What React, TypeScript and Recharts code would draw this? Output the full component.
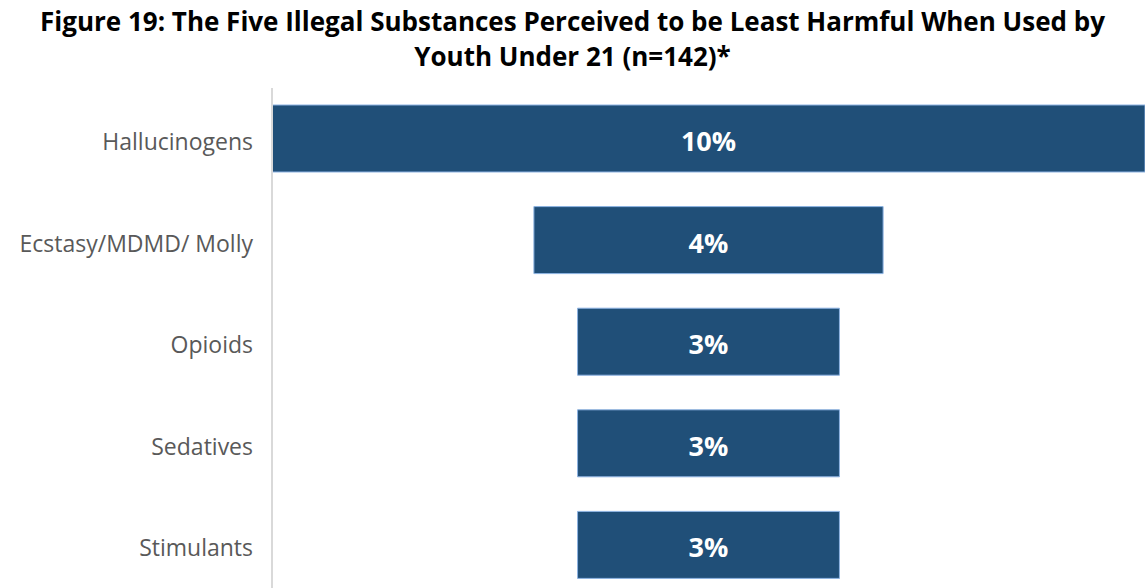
import { BarChart, Bar, XAxis, YAxis, LabelList } from "recharts"

const substances = ["Hallucinogens", "Ecstasy/MDMD/ Molly", "Opioids", "Sedatives", "Stimulants"]
const percents = [10, 4, 3, 3, 3]
const maxPercent = 10

// centred (funnel-style) bars: each bar spans a range around the middle
const data = substances.map((name, i) => ({
  name,
  value: percents[i],
  range: [(maxPercent - percents[i]) / 2, (maxPercent + percents[i]) / 2],
}))

const font = "'Open Sans', sans-serif"

export default function App() {
  return (
    <div style={{ position: "absolute", left: 0, top: 0, width: 1145, height: 588, overflow: "hidden", background: "#fff", fontFamily: font }}>
      <div style={{ position: "absolute", top: 4, left: 0, width: 1145, textAlign: "center", fontSize: 26, fontWeight: 700, lineHeight: "35px", color: "#000", whiteSpace: "nowrap" }}>
        Figure 19: The Five Illegal Substances Perceived to be Least Harmful When Used by
        <br />
        Youth Under 21 (n=142)*
      </div>
      <div style={{ position: "absolute", top: 88, left: 0 }}>
        <BarChart width={1145} height={508} data={data} layout="vertical" margin={{ top: 0, right: 0, bottom: 0, left: 0 }}>
          <XAxis type="number" domain={[0, maxPercent]} hide />
          <YAxis
            type="category"
            dataKey="name"
            width={272}
            tickLine={false}
            tickMargin={13}
            axisLine={{ stroke: "#d9d9d9", strokeWidth: 2 }}
            tick={{ fill: "#595959", fontSize: 23, fontFamily: font, dy: 3 }}
          />
          <Bar dataKey="range" fill="#204f78" stroke="#8db3e2" strokeWidth={1} barSize={67} isAnimationActive={false}>
            <LabelList dataKey="value" position="center" formatter={(v: number) => `${v}%`} fill="#fff" fontSize={27} fontWeight={700} fontFamily={font} dy={3} />
          </Bar>
        </BarChart>
      </div>
    </div>
  )
}
